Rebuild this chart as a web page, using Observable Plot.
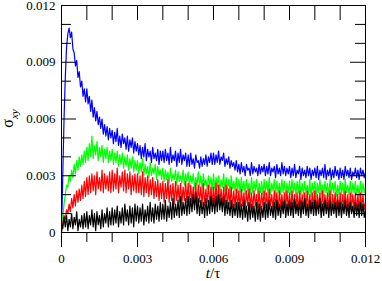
<!DOCTYPE html>
<html><head><meta charset="utf-8">
<script src="https://cdn.jsdelivr.net/npm/d3@7"></script>
<script src="https://cdn.jsdelivr.net/npm/@observablehq/plot@0.6"></script>
<style>body{margin:0;background:#fff}svg{display:block}svg text{font-family:"Liberation Serif",serif}</style>
</head><body><div id="chart"></div>
<script>
// sampling step of t/τ and the unit of the value lists below (1e-4)
const tStep = 0.00005;
const unit = 1e-4;

const blueSeries = [
0,30,60,82,98,105,108,103,106,97,95,88,91,82,85,77,80,72,76,69,
76,68,72,64,70,61,66,59,64,57,61,55,60,52,57,51,56,49,55,50,
54,47,53,48,55,46,51,45,52,47,50,44,51,43,49,45,50,42,48,43,
47,41,46,39,45,40,47,38,44,40,43,37,45,39,42,38,44,36,43,38,
43,37,44,38,42,36,45,37,41,38,43,35,42,37,44,36,41,38,42,35,
41,35,42,36,39,34,41,37,38,34,40,35,39,36,41,35,40,37,42,36,
42,36,41,37,43,36,40,38,42,35,39,36,40,34,38,35,37,33,38,32,
36,31,37,32,35,30,36,33,34,30,37,31,35,32,34,30,36,31,35,32,
36,30,35,31,37,30,34,32,35,29,36,31,34,30,37,31,35,30,34,31,
35,29,34,30,36,29,33,31,35,28,34,30,33,29,35,30,34,28,33,30,
34,29,35,28,33,30,34,29,36,28,33,30,34,28,33,29,35,30,33,28,
34,29,33,28,35,30,33,29,34,28,32,30,34,29,33,28,34,30,33,29,
32];

const greenSeries = [
0,8,15,20,25,24,30,27,33,29,36,31,38,33,40,35,41,36,43,37,
45,38,47,40,51,39,46,41,48,38,45,40,46,37,44,39,45,37,43,38,
44,36,42,37,43,35,41,36,42,34,40,35,41,33,39,34,40,32,38,33,
38,31,37,32,39,30,36,31,35,29,37,30,34,31,36,28,35,30,33,28,
34,27,33,28,32,26,34,27,31,28,33,25,32,27,30,26,33,25,31,27,
32,24,30,26,31,23,29,25,32,24,30,23,31,25,28,23,30,24,29,22,
31,23,29,24,30,22,28,24,31,22,29,23,28,21,30,23,27,22,29,21,
28,21,29,22,27,20,28,22,26,20,29,21,27,22,28,19,26,21,27,20,
28,20,27,21,29,20,26,22,28,19,27,21,26,20,28,21,27,19,26,21,
27,20,28,21,26,19,27,21,28,20,26,19,27,21,25,20,28,19,26,21,
27,19,26,21,28,20,25,19,27,21,26,19,28,20,26,21,27,19,25,20,
27,20,26,19,28,21,25,20,27,19,26,21,27,20,25,19,27,20,26,21,
24];

const redSeries = [
0,5,9,7,12,10,15,11,18,13,20,14,22,16,23,17,25,18,27,19,
29,20,30,21,31,22,30,20,32,23,29,22,33,21,31,23,30,22,32,21,
33,22,31,23,34,21,30,24,32,22,33,21,31,23,32,20,30,22,31,21,
31,21,30,20,32,19,29,21,30,19,28,20,29,18,27,19,28,17,26,18,
27,16,26,18,28,16,25,17,26,15,27,17,25,16,26,15,24,17,27,16,
26,15,25,16,24,15,26,14,25,16,24,15,26,14,23,16,25,14,24,15,
24,15,26,14,25,16,23,14,24,15,25,13,23,15,24,13,22,14,23,13,
22,13,23,14,21,12,22,14,23,13,21,12,22,14,20,13,22,12,21,14,
22,13,21,12,23,14,20,12,22,13,21,11,22,13,20,12,21,13,22,12,
21,12,22,13,20,12,21,11,22,13,20,12,21,13,22,11,20,12,21,13,
22,12,20,13,21,11,22,12,20,13,21,12,22,11,20,13,21,12,20,11,
21,12,20,13,22,12,20,11,21,13,20,12,21,11,20,12,21,13,20,12,
16];

const blackSeries = [
5,2,8,3,9,1,7,3,10,2,8,4,11,1,7,3,9,2,10,3,
11,2,9,4,12,3,10,1,11,4,9,2,12,3,10,5,13,3,11,4,
13,4,12,5,14,3,11,5,13,4,15,6,12,4,14,5,13,3,15,6,
14,5,13,6,15,4,12,6,14,5,16,6,13,5,15,7,14,6,16,7,
15,7,17,6,14,8,16,7,18,8,15,9,17,8,19,9,16,10,18,9,
19,10,18,11,20,12,21,10,18,9,17,10,16,8,18,9,17,10,19,11,
18,10,19,11,20,12,18,11,19,9,17,10,16,9,17,8,15,9,16,8,
16,8,15,7,17,8,14,6,16,7,15,8,14,6,16,7,15,6,14,8,
16,7,15,8,17,9,14,8,16,7,17,9,15,8,16,10,17,8,15,9,
17,9,16,8,18,10,15,9,17,8,16,10,18,9,15,8,17,10,16,9,
17,9,16,10,18,8,15,9,17,10,16,8,17,9,15,10,16,8,17,9,
16,8,15,10,17,9,15,8,16,10,14,8,16,9,15,8,16,9,15,8,
12];

const seriesColors = ["#0000ff", "#00ff00", "#ff0000", "#000000"];
const seriesLists = [blueSeries, greenSeries, redSeries, blackSeries];

const xMajor = [0, 0.003, 0.006, 0.009, 0.012];
const xMajorLabels = ["0", "0.003", "0.006", "0.009", "0.012"];
const xMinor = [0.001, 0.002, 0.004, 0.005, 0.007, 0.008, 0.010, 0.011];
const yMajor = [0, 0.003, 0.006, 0.009, 0.012];
const yMajorLabels = ["0", "0.003", "0.006", "0.009", "0.012"];
const yMinor = [0.001, 0.002, 0.004, 0.005, 0.007, 0.008, 0.010, 0.011];

const toRows = (list) => list.map((v, i) => ({t: i * tStep, v: v * unit}));

const W = 382, H = 281;
const mL = 61, mR = 17, mT = 5, mB = 49;
const pw = W - mL - mR, ph = H - mT - mB;
const majLen = 15, minLen = 10;
const serif = "'Liberation Serif', 'Times New Roman', serif";

const marks = [];
seriesLists.forEach((list, k) => {
  marks.push(Plot.line(toRows(list), {x: "t", y: "v", stroke: seriesColors[k], strokeWidth: 1.2}));
});
marks.push(
  Plot.frame({stroke: "black", strokeWidth: 1}),
  // top ticks (inward)
  Plot.tickX([...xMajor, ...xMinor], {x: d => d, stroke: "black", insetBottom: ph - majLen}),
  // bottom ticks (outward)
  Plot.tickX(xMajor, {x: d => d, stroke: "black", insetTop: ph, insetBottom: -majLen}),
  Plot.tickX(xMinor, {x: d => d, stroke: "black", insetTop: ph, insetBottom: -minLen}),
  // left ticks (inward)
  Plot.tickY(yMajor, {y: d => d, stroke: "black", insetRight: pw - majLen}),
  Plot.tickY(yMinor, {y: d => d, stroke: "black", insetRight: pw - minLen}),
  // right ticks (inward)
  Plot.tickY(yMajor, {y: d => d, stroke: "black", insetLeft: pw - majLen}),
  Plot.tickY(yMinor, {y: d => d, stroke: "black", insetLeft: pw - minLen}),
  Plot.axisX(xMajor, {anchor: "bottom", tickSize: 0, tickPadding: 21, label: null,
    tickFormat: (d, i) => xMajorLabels[i], fontSize: 13, fontFamily: serif}),
  Plot.axisY(yMajor, {anchor: "left", tickSize: 0, tickPadding: 6, label: null,
    tickFormat: (d, i) => yMajorLabels[i], fontSize: 13, fontFamily: serif})
);

const chart = Plot.plot({
  width: W, height: H,
  marginLeft: mL, marginRight: mR, marginTop: mT, marginBottom: mB,
  x: {domain: [0, 0.012], axis: null},
  y: {domain: [0, 0.012], axis: null},
  style: {fontFamily: serif, fontSize: "13px", background: "white", color: "black", overflow: "visible"},
  marks
});

const svg = d3.select(chart);
svg.attr("font-family", serif);
svg.selectAll("text").attr("font-family", serif).style("font-variant", "normal");

const yl = svg.append("text")
  .attr("transform", `translate(13,${mT + ph / 2}) rotate(-90)`)
  .attr("text-anchor", "middle")
  .attr("fill", "black")
  .attr("font-family", serif);
yl.append("tspan").attr("font-size", 16).text("σ");
yl.append("tspan").attr("font-size", 11).attr("font-style", "italic").attr("dy", 5).text("xy");

const xl = svg.append("text")
  .attr("x", mL + pw / 2).attr("y", 278)
  .attr("text-anchor", "middle")
  .attr("fill", "black")
  .attr("font-family", serif)
  .attr("font-size", 15);
xl.append("tspan").attr("font-style", "italic").text("t");
xl.append("tspan").text("/τ");

document.getElementById("chart").appendChild(chart);
</script>
</body></html>
